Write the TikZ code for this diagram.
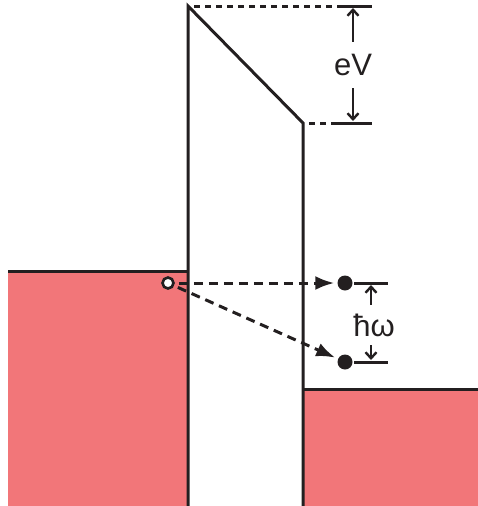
\documentclass[tikz,border=0pt]{standalone}
\usepackage{fontspec}
\setmainfont{Liberation Sans}
\usetikzlibrary{arrows.meta}
\definecolor{bandred}{RGB}{242,118,121}
\definecolor{ink}{RGB}{35,31,32}
\tikzset{
  lin/.style={draw=ink, line width=3pt},
  thin/.style={draw=ink, line width=2.4pt},
  dsh/.style={draw=ink, line width=3pt, dash pattern=on 9pt off 6pt},
  dshtop/.style={draw=ink, line width=3pt, dash pattern=on 6pt off 5pt},
  trans/.style={dsh, -{Latex[length=19pt,width=14pt]}, shorten >=3pt, shorten <=4pt},
  meas/.style={thin, -{Straight Barb[length=6pt,width=11pt]}},
  edot/.style={circle, fill=ink, inner sep=0pt, minimum size=15pt},
  hdot/.style={circle, draw=ink, fill=white, line width=2.6pt, inner sep=0pt, minimum size=11pt},
  lbl/.style={inner sep=0pt, font=\fontsize{31}{31}\selectfont, text=ink}
}
\begin{document}
\begin{tikzpicture}[x=1pt,y=-1pt]
\useasboundingbox (0,0) rectangle (478,506);
% bands
\fill[bandred] (8,271) rectangle (188,506);
\fill[bandred] (303,389) rectangle (478,506);
\draw[lin] (8,271) -- (188,271);
\draw[lin] (303,389) -- (478,389);
% barrier
\coordinate (b0) at (188,506);
\coordinate (b1) at (188,6);
\coordinate (b2) at (303,123);
\coordinate (b3) at (303,506);
\draw[lin, line join=miter] (b0) -- (b1) -- (b2) -- (b3);
% eV marker
\coordinate (t0) at (194,6);
\coordinate (t1) at (337,6);
\coordinate (t2) at (372,6);
\coordinate (u0) at (309,123);
\coordinate (u1) at (337,123);
\coordinate (u2) at (372,123);
\draw[dshtop] (t0) -- (t1);
\draw[lin] (t1) -- (t2);
\draw[dshtop] (u0) -- (u1);
\draw[lin] (u1) -- (u2);
\node[lbl, minimum height=46pt] (ev) at (353,65) {eV};
\coordinate (evt) at (353,8);
\coordinate (evb) at (353,121);
\draw[meas] (ev.north) -- (evt);
\draw[meas] (ev.south) -- (evb);
% transitions
\node[hdot] (hole) at (168,283) {};
\node[edot] (e1) at (345,283) {};
\node[edot] (e2) at (345,362) {};
\draw[trans] (hole) -- (e1);
\draw[trans] (hole) -- (e2);
\coordinate (l1a) at (354,283);
\coordinate (l1b) at (388,283);
\coordinate (l2a) at (354,362);
\coordinate (l2b) at (388,362);
\draw[lin] (l1a) -- (l1b);
\draw[lin] (l2a) -- (l2b);
\node[lbl, minimum height=40pt] (hw) at (374,325) {ħω};
\coordinate (hwt) at (371,285);
\coordinate (hwb) at (371,360);
\draw[meas] (hw.north -| hwt) -- (hwt);
\draw[meas] (hw.south -| hwb) -- (hwb);
\end{tikzpicture}
\end{document}
